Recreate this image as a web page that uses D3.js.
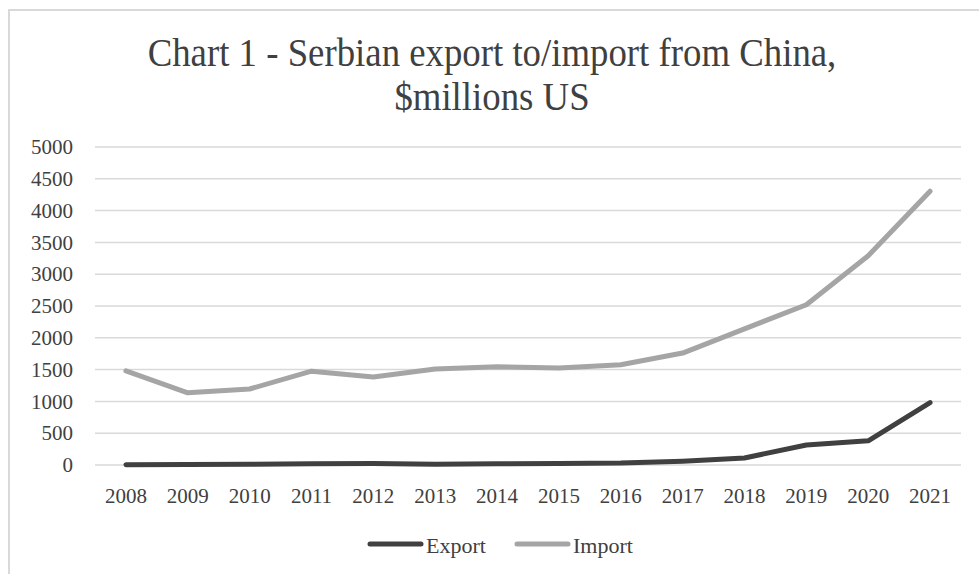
<!DOCTYPE html>
<html>
<head>
<meta charset="utf-8">
<script src="https://cdn.jsdelivr.net/npm/d3@7"></script>
<style>
  body { margin: 0; background: #fff; }
  svg { display: block; }
</style>
</head>
<body>
<svg id="chart" width="979" height="574"></svg>
<script>
// data
const years = ["2008", "2009", "2010", "2011", "2012", "2013", "2014", "2015", "2016", "2017", "2018", "2019", "2020", "2021"];
const exportValues = [5, 8, 12, 20, 22, 12, 20, 25, 30, 60, 110, 315, 380, 980];
const importValues = [1480, 1135, 1195, 1475, 1385, 1510, 1545, 1525, 1575, 1760, 2140, 2520, 3290, 4305];
const yTicks = [0, 500, 1000, 1500, 2000, 2500, 3000, 3500, 4000, 4500, 5000];

const width = 979, height = 574;
const fontFamily = "'Liberation Serif', 'Times New Roman', serif";
const textColor = "#404040";
const gridColor = "#d9d9d9";

let svg = d3.select("#chart");

// outer chart frame
svg.append("rect")
    .attr("x", 9)
    .attr("y", 10)
    .attr("width", width)
    .attr("height", height)
    .attr("fill", "none")
    .attr("stroke", gridColor)
    .attr("stroke-width", 2);

let xScale = d3.scaleBand()
    .domain(years)
    .range([95, 961]);

let yScale = d3.scaleLinear()
    .domain([0, 5000])
    .range([465, 147]);

// gridlines
svg.selectAll(".grid")
    .data(yTicks)
    .enter()
    .append("line")
    .attr("x1", 95)
    .attr("x2", 961)
    .attr("y1", d => yScale(d))
    .attr("y2", d => yScale(d))
    .attr("stroke", gridColor)
    .attr("stroke-width", 1.5);

// y axis labels
let yAxis = svg.append("g")
    .attr("transform", "translate(82, 0)")
    .call(d3.axisLeft(yScale).tickValues(yTicks).tickFormat(d3.format("d")).tickSize(0).tickPadding(9));
yAxis.select(".domain").remove();
yAxis.selectAll("text")
    .style("font-family", fontFamily)
    .style("font-size", "21px")
    .style("fill", textColor);

// x axis labels
let xAxis = svg.append("g")
    .attr("transform", "translate(0, 465)")
    .call(d3.axisBottom(xScale).tickSize(0).tickPadding(23));
xAxis.select(".domain").remove();
xAxis.selectAll("text")
    .style("font-family", fontFamily)
    .style("font-size", "21px")
    .style("fill", textColor);

let cx = d => xScale(d) + xScale.bandwidth() / 2;

let series = [
    { name: "Export", values: exportValues, color: "#404040" },
    { name: "Import", values: importValues, color: "#a5a5a5" }
];

let line = d3.line()
    .x((d, i) => cx(years[i]))
    .y(d => yScale(d));

// draw import first so export sits on top
for (let s of series.slice().reverse()) {
    svg.append("path")
        .datum(s.values)
        .attr("d", line)
        .attr("fill", "none")
        .attr("stroke", s.color)
        .attr("stroke-width", 5)
        .attr("stroke-linejoin", "round")
        .attr("stroke-linecap", "round");
}

// title (slightly condensed, like the original)
let title = svg.append("text")
    .attr("transform", "translate(492, 0) scale(0.92, 1)")
    .attr("text-anchor", "middle")
    .style("font-family", fontFamily)
    .style("font-size", "40px")
    .style("fill", textColor);
title.append("tspan").attr("x", 0).attr("y", 66).text("Chart 1 - Serbian export to/import from China,");
title.append("tspan").attr("x", 0).attr("y", 110).text("$millions US");

// legend
let legendX = [370, 517];
series.forEach((s, i) => {
    let g = svg.append("g").attr("transform", "translate(" + legendX[i] + ", 544)");
    g.append("line")
        .attr("x1", 0)
        .attr("x2", 51)
        .attr("stroke", s.color)
        .attr("stroke-width", 5)
        .attr("stroke-linecap", "round");
    g.append("text")
        .attr("x", 56)
        .attr("y", 9)
        .text(s.name)
        .style("font-family", fontFamily)
        .style("font-size", "22px")
        .style("fill", textColor);
});
</script>
</body>
</html>
